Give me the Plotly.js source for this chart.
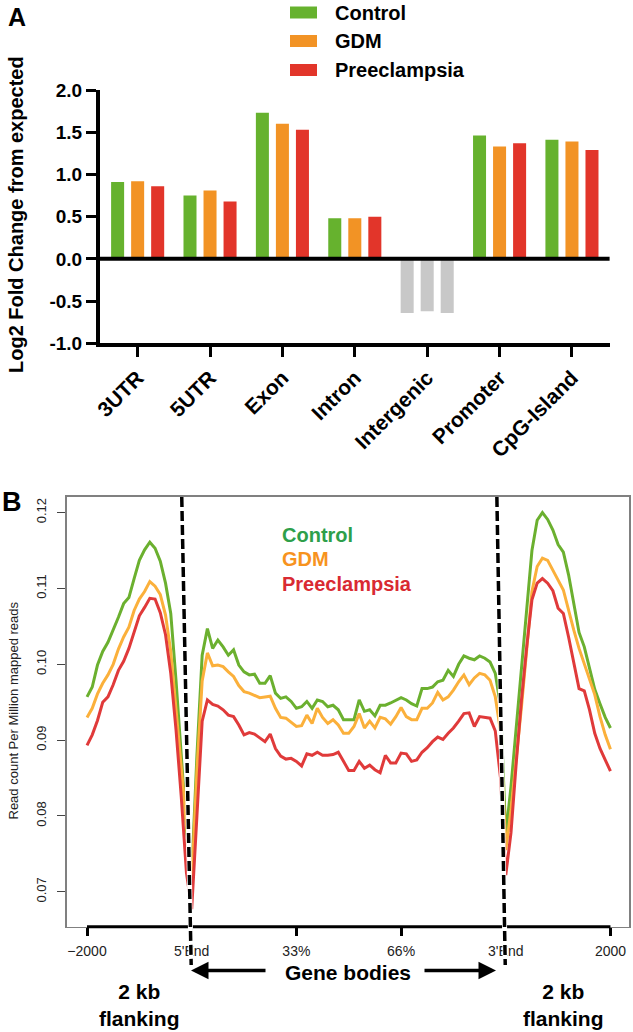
<!DOCTYPE html>
<html>
<head>
<meta charset="utf-8">
<script src="https://cdn.plot.ly/plotly-3.0.1.min.js"></script>
<style>
  html, body { margin: 0; padding: 0; background: #ffffff; }
  #chart { width: 633px; height: 1032px; }
</style>
</head>
<body>
<div id="chart"></div>
<script>
// ---------- Panel A data ----------
const regionCategories = ['3UTR', '5UTR', 'Exon', 'Intron', 'Intergenic', 'Promoter', 'CpG-Island'];
const groupNames = ['Control', 'GDM', 'Preeclampsia'];
const controlLog2FC      = [0.91, 0.75, 1.73, 0.48, -0.64, 1.46, 1.41];
const gdmLog2FC          = [0.92, 0.81, 1.60, 0.48, -0.62, 1.33, 1.39];
const preeclampsiaLog2FC = [0.86, 0.68, 1.53, 0.50, -0.64, 1.37, 1.29];
const yTickValsA = [-1, -0.5, 0, 0.5, 1, 1.5, 2];
const yTickTextA = ['-1.0', '-0.5', '0.0', '0.5', '1.0', '1.5', '2.0'];

// ---------- Panel B data (101 bins: 20 upstream, 60 gene body, 20 downstream) ----------
const profileTickVals = [0, 20, 40, 60, 80, 100];
const profileTickText = ['\u22122000', "5'End", '33%', '66%', "3'End", '2000'];
const yTickValsB = [0.07, 0.08, 0.09, 0.10, 0.11, 0.12];
const yTickTextB = ['0.07', '0.08', '0.09', '0.10', '0.11', '0.12'];

const controlProfile = [
  0.0957, 0.0970, 0.0999, 0.1017, 0.1029, 0.1045, 0.1062, 0.1080, 0.1088, 0.1113,
  0.1137, 0.1151, 0.1161, 0.1153, 0.1136, 0.1107, 0.1067, 0.0979, 0.0879, 0.0782,
  0.0722, 0.0880, 0.1012, 0.1047, 0.1021, 0.1032, 0.1023, 0.1012, 0.1019, 0.0999,
  0.0990, 0.0986, 0.0987, 0.0975, 0.0975, 0.0985, 0.0962, 0.0955, 0.0957, 0.0951,
  0.0942, 0.0944, 0.0951, 0.0942, 0.0953, 0.0951, 0.0944, 0.0946, 0.0940, 0.0927,
  0.0927, 0.0927, 0.0953, 0.0938, 0.0940, 0.0932, 0.0946, 0.0946, 0.0949, 0.0953,
  0.0956, 0.0953, 0.0948, 0.0945, 0.0968, 0.0968, 0.0970, 0.0977, 0.0979, 0.0992,
  0.0984, 0.1000, 0.1011, 0.1008, 0.1006, 0.1011, 0.1008, 0.1003, 0.0988, 0.0945,
  0.0775, 0.0839, 0.0918, 0.0997, 0.1076, 0.1150, 0.1190, 0.1200, 0.1191, 0.1177,
  0.1158, 0.1148, 0.1118, 0.1080, 0.1042, 0.1023, 0.0993, 0.0967, 0.0948, 0.0930,
  0.0916
];
const gdmProfile = [
  0.0930, 0.0942, 0.0961, 0.0975, 0.0986, 0.1000, 0.1020, 0.1036, 0.1049, 0.1071,
  0.1086, 0.1096, 0.1109, 0.1103, 0.1092, 0.1065, 0.1017, 0.0940, 0.0857, 0.0778,
  0.0712, 0.0860, 0.0978, 0.1015, 0.0998, 0.0999, 0.0997, 0.0990, 0.0984, 0.0972,
  0.0964, 0.0962, 0.0959, 0.0956, 0.0957, 0.0958, 0.0942, 0.0930, 0.0929, 0.0923,
  0.0918, 0.0919, 0.0933, 0.0922, 0.0942, 0.0930, 0.0922, 0.0927, 0.0920, 0.0909,
  0.0909, 0.0918, 0.0935, 0.0916, 0.0925, 0.0916, 0.0930, 0.0928, 0.0921, 0.0931,
  0.0943, 0.0931, 0.0927, 0.0927, 0.0942, 0.0942, 0.0949, 0.0963, 0.0953, 0.0957,
  0.0966, 0.0977, 0.0986, 0.0973, 0.0982, 0.0988, 0.0986, 0.0979, 0.0957, 0.0912,
  0.0755, 0.0808, 0.0874, 0.0944, 0.1019, 0.1096, 0.1129, 0.1140, 0.1137, 0.1123,
  0.1111, 0.1098, 0.1071, 0.1045, 0.1021, 0.1001, 0.0982, 0.0960, 0.0931, 0.0907,
  0.0888
];
const preeclampsiaProfile = [
  0.0893, 0.0907, 0.0926, 0.0950, 0.0957, 0.0973, 0.0992, 0.1004, 0.1021, 0.1041,
  0.1064, 0.1075, 0.1087, 0.1086, 0.1068, 0.1039, 0.0988, 0.0914, 0.0826, 0.0725,
  0.0677, 0.0800, 0.0925, 0.0953, 0.0947, 0.0945, 0.0940, 0.0933, 0.0931, 0.0920,
  0.0907, 0.0910, 0.0908, 0.0903, 0.0898, 0.0908, 0.0889, 0.0879, 0.0875, 0.0876,
  0.0872, 0.0866, 0.0882, 0.0880, 0.0884, 0.0880, 0.0880, 0.0881, 0.0884, 0.0872,
  0.0860, 0.0860, 0.0872, 0.0863, 0.0867, 0.0861, 0.0857, 0.0880, 0.0870, 0.0870,
  0.0883, 0.0882, 0.0872, 0.0874, 0.0884, 0.0890, 0.0898, 0.0904, 0.0901, 0.0909,
  0.0916, 0.0925, 0.0935, 0.0936, 0.0918, 0.0931, 0.0930, 0.0929, 0.0912, 0.0850,
  0.0722, 0.0778, 0.0870, 0.0953, 0.1023, 0.1085, 0.1107, 0.1113, 0.1107, 0.1097,
  0.1074, 0.1067, 0.1036, 0.1004, 0.0968, 0.0965, 0.0940, 0.0909, 0.0889, 0.0874,
  0.0859
];

// ---------- styling ----------
const FONT = 'Liberation Sans, Arial, Helvetica, sans-serif';
const barColors  = ['#66b22e', '#f29325', '#e2352a'];
const greyColor  = '#c8c8c8';
const lineColors = ['#6bb02f', '#fbb03b', '#e03a3a'];
const textColors = ['#2e9f4a', '#f7931e', '#d92a32'];

const W = 633, H = 1032;
const px = X => X / W;
const py = Y => 1 - Y / H;

const barSeries = [controlLog2FC, gdmLog2FC, preeclampsiaLog2FC];
const profiles = [controlProfile, gdmProfile, preeclampsiaProfile];

const traces = [];
barSeries.forEach((vals, i) => {
  traces.push({
    type: 'bar',
    name: groupNames[i],
    x: regionCategories,
    y: vals,
    xaxis: 'x', yaxis: 'y',
    marker: {
      color: regionCategories.map(c => c === 'Intergenic' ? greyColor : barColors[i]),
      line: { width: 0 }
    },
    showlegend: false,
    hoverinfo: 'skip'
  });
});
profiles.forEach((vals, i) => {
  traces.push({
    type: 'scatter',
    mode: 'lines',
    name: groupNames[i],
    x0: 0, dx: 1,
    y: vals,
    xaxis: 'x2', yaxis: 'y2',
    line: { color: lineColors[i], width: 3 },
    showlegend: false,
    hoverinfo: 'skip'
  });
});

const shapes = [];
// zero line of panel A drawn above the bars
shapes.push({ type: 'line', xref: 'x domain', yref: 'y', x0: 0, x1: 1, y0: 0, y1: 0,
  line: { color: '#000', width: 4 }, layer: 'above' });
// legend swatches panel A
const legendRowsY = [12.5, 41, 70];
groupNames.forEach((n, i) => {
  shapes.push({ type: 'rect', xref: 'paper', yref: 'paper',
    x0: px(290), x1: px(317), y0: py(legendRowsY[i] + 6), y1: py(legendRowsY[i] - 6),
    fillcolor: barColors[i], line: { width: 0 } });
});
// black bottom axis line of panel B (from -2000 to 2000)
shapes.push({ type: 'line', xref: 'x2', yref: 'y2 domain', x0: profileTickVals[0], x1: profileTickVals[5], y0: 0, y1: 0,
  line: { color: '#000', width: 3 }, layer: 'above' });
// dashed gene-boundary lines (white underlay + black dashes)
const dashLines = [ [18.1, 19.9], [78.3, 79.9] ];
dashLines.forEach(d => {
  shapes.push({ type: 'line', xref: 'x2', yref: 'paper', x0: d[0], x1: d[1], y0: py(497), y1: py(965),
    line: { color: '#ffffff', width: 5 }, layer: 'above' });
  shapes.push({ type: 'line', xref: 'x2', yref: 'paper', x0: d[0], x1: d[1], y0: py(497), y1: py(965),
    line: { color: '#000000', width: 3.5, dash: '10px,4px' }, layer: 'above' });
});

const annotations = [];
const ann = (text, X, Y, opts) => Object.assign({
  text: text, xref: 'paper', yref: 'paper', x: px(X), y: py(Y),
  showarrow: false, xanchor: 'center', yanchor: 'middle',
  font: { family: FONT, size: 20, color: '#000', weight: 'bold' }
}, opts || {});

annotations.push(ann('A', 17, 17, { font: { family: FONT, size: 25, color: '#000', weight: 'bold' } }));
annotations.push(ann('Log2 Fold Change from expected', 16, 215, { textangle: -90 }));
groupNames.forEach((n, i) => {
  annotations.push(ann(n, 333, legendRowsY[i], { xanchor: 'left' }));
});
annotations.push(ann('B', 12, 502, { font: { family: FONT, size: 27, color: '#000', weight: 'bold' } }));
annotations.push(ann('Read count Per Million mapped reads', 12.5, 711,
  { textangle: -90, font: { family: FONT, size: 13, color: '#222', weight: 'normal' } }));
const bLegendY = [535, 559, 583.5];
groupNames.forEach((n, i) => {
  annotations.push(ann(n, 280, bLegendY[i], { xanchor: 'left',
    font: { family: FONT, size: 20, color: textColors[i], weight: 'bold' } }));
});
annotations.push(ann('Gene bodies', 348, 972, { font: { family: FONT, size: 21, color: '#000', weight: 'bold' } }));
annotations.push(ann('2 kb<br>flanking', 139, 1005, { font: { family: FONT, size: 21, color: '#000', weight: 'bold' } }));
annotations.push(ann('2 kb<br>flanking', 563, 1005, { font: { family: FONT, size: 21, color: '#000', weight: 'bold' } }));
// arrows
annotations.push({ text: '', xref: 'paper', yref: 'paper', x: px(191), y: py(970.5),
  axref: 'pixel', ayref: 'pixel', ax: 267 - 191, ay: 0, showarrow: true,
  arrowhead: 2, arrowsize: 1, arrowwidth: 3.5, arrowcolor: '#000' });
annotations.push({ text: '', xref: 'paper', yref: 'paper', x: px(496), y: py(970.5),
  axref: 'pixel', ayref: 'pixel', ax: 423 - 496, ay: 0, showarrow: true,
  arrowhead: 2, arrowsize: 1, arrowwidth: 3.5, arrowcolor: '#000' });

const layout = {
  width: W, height: H,
  margin: { l: 0, r: 0, t: 0, b: 0, pad: 0 },
  paper_bgcolor: '#ffffff', plot_bgcolor: 'rgba(0,0,0,0)',
  font: { family: FONT, color: '#000' },
  barmode: 'group', bargap: 0.17, bargroupgap: 0.35,
  showlegend: false,
  xaxis: {
    domain: [px(100), px(609.6)], anchor: 'y',
    range: [-0.52, 6.52], showgrid: false, zeroline: false,
    showline: true, linecolor: '#000', linewidth: 4,
    ticks: 'outside', ticklen: 10, tickwidth: 3, tickcolor: '#000',
    tickangle: -45, tickfont: { family: FONT, size: 21, color: '#000', weight: 'bold' },
    fixedrange: true, automargin: false
  },
  yaxis: {
    domain: [py(343.3), py(90)], anchor: 'x',
    range: [-1, 2], showgrid: false, zeroline: false,
    showline: true, linecolor: '#000', linewidth: 4,
    ticks: 'outside', ticklen: 10, tickwidth: 3, tickcolor: '#000',
    tickvals: yTickValsA, ticktext: yTickTextA,
    tickfont: { family: FONT, size: 19, color: '#000', weight: 'bold' },
    fixedrange: true, automargin: false
  },
  xaxis2: {
    domain: [px(66.7), px(629.3)], anchor: 'y2',
    range: [-3.88, 103.6], showgrid: false, zeroline: false,
    showline: true, mirror: true, linecolor: '#808080', linewidth: 1.5,
    ticks: 'outside', ticklen: 8, tickwidth: 3, tickcolor: '#000',
    tickvals: profileTickVals, ticktext: profileTickText,
    tickfont: { family: FONT, size: 14, color: '#222' },
    ticklabelstandoff: 3,
    fixedrange: true, automargin: false
  },
  yaxis2: {
    domain: [py(926.7), py(496.7)], anchor: 'x2',
    range: [0.0654, 0.1221], showgrid: false, zeroline: false,
    showline: true, mirror: true, linecolor: '#808080', linewidth: 1.5,
    ticks: 'outside', ticklen: 8, tickwidth: 1, tickcolor: '#444',
    tickvals: yTickValsB, ticktext: yTickTextB, tickangle: -90,
    tickfont: { family: FONT, size: 13, color: '#222' },
    ticklabelstandoff: 6,
    fixedrange: true, automargin: false
  },
  shapes: shapes,
  annotations: annotations
};

Plotly.newPlot('chart', traces, layout, { staticPlot: true, displayModeBar: false });
</script>
</body>
</html>
